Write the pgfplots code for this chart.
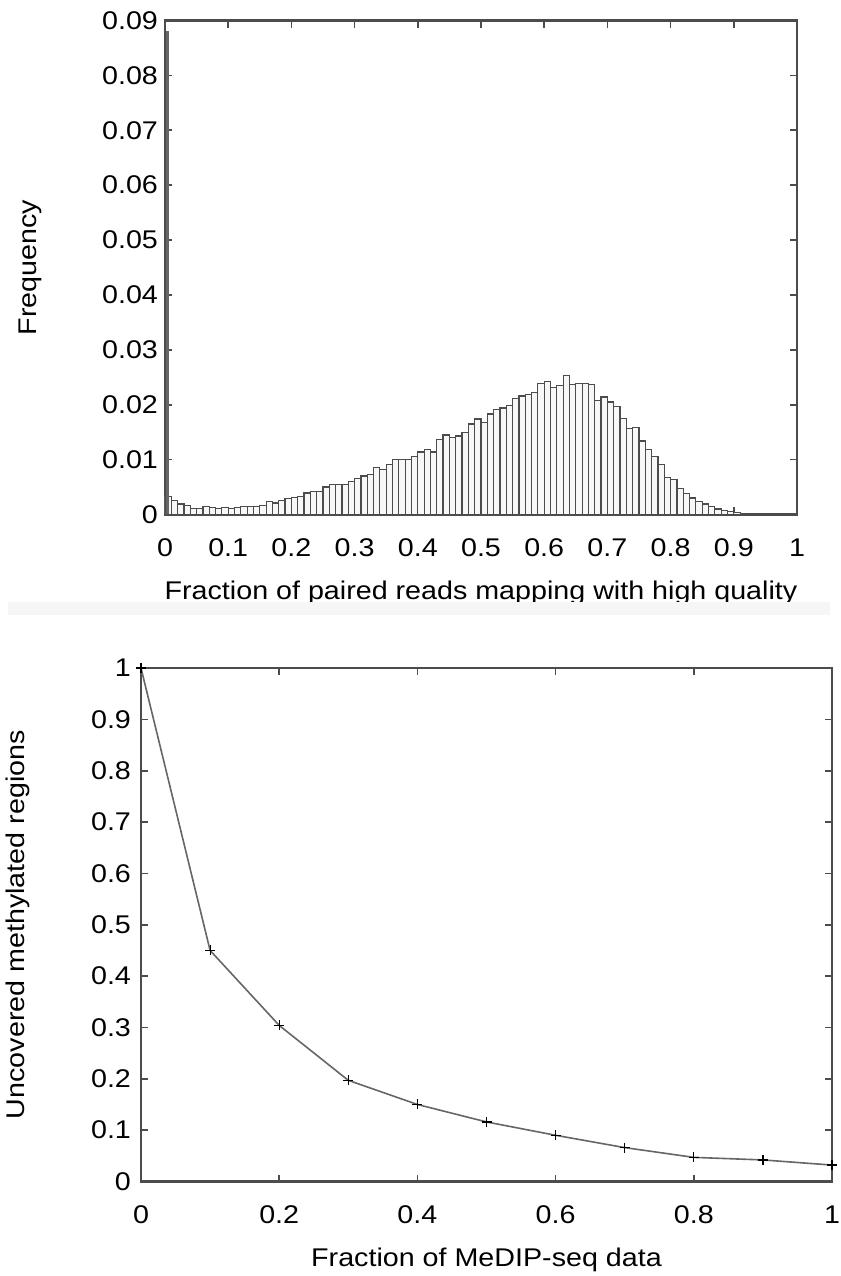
\documentclass[border=0pt]{standalone}
\usepackage{fontspec}
\setmainfont{Liberation Sans}[FakeStretch=1.12]
\usepackage{pgfplots}
\pgfplotsset{compat=1.18}

% histogram: bin left edge, frequency (bin width 0.01)
\pgfplotsset{
  gnu/.style={
    scale only axis,
    axis line style={black!70, line width=1.2pt},
    tick style={black!70, line width=0.8pt},
    major tick length=3.5pt,
    tick align=inside,
    xtick pos=both, ytick pos=both,
    scaled ticks=false,
    tick label style={font=\fontsize{12.8}{15}\selectfont},
    label style={font=\fontsize{12.8}{15}\selectfont},
    xticklabel style={anchor=base, yshift=-21pt},
    xlabel style={at={(rel axis cs:0.5,0)}, anchor=base, yshift=-42.5pt},
  },
}

\begin{document}
\begin{tikzpicture}
\path[use as bounding box] (0,0) rectangle (420.5pt,638pt);

\begin{axis}[gnu,
    at={(82.5pt,380.75pt)}, anchor=south west,
    width=316pt, height=247pt,
    xmin=0, xmax=1, ymin=0, ymax=0.09,
    xtick={0,0.1,0.2,0.3,0.4,0.5,0.6,0.7,0.8,0.9,1},
    xticklabels={0,0.1,0.2,0.3,0.4,0.5,0.6,0.7,0.8,0.9,1},
    ytick={0,0.01,0.02,0.03,0.04,0.05,0.06,0.07,0.08,0.09},
    yticklabels={0,0.01,0.02,0.03,0.04,0.05,0.06,0.07,0.08,0.09},
    xlabel={Fraction of paired reads mapping with high quality},
    ylabel={Frequency},
    ylabel style={at={(rel axis cs:0,0.5)}, anchor=center, yshift=67.5pt},
  ]
  \addplot[ybar interval, draw=black!70, fill=gray!6, line width=0.6pt] coordinates {
    (0.00,0.0033) (0.01,0.0025) (0.02,0.0019) (0.03,0.0016) (0.04,0.0011)
    (0.05,0.0011) (0.06,0.0015) (0.07,0.0013) (0.08,0.0011) (0.09,0.0013)
    (0.10,0.0011) (0.11,0.0013) (0.12,0.0015) (0.13,0.0015) (0.14,0.0015)
    (0.15,0.0016) (0.16,0.0024) (0.17,0.0021) (0.18,0.0025) (0.19,0.0029)
    (0.20,0.0031) (0.21,0.0033) (0.22,0.0039) (0.23,0.0042) (0.24,0.0042)
    (0.25,0.0050) (0.26,0.0055) (0.27,0.0055) (0.28,0.0055) (0.29,0.0060)
    (0.30,0.0065) (0.31,0.0070) (0.32,0.0073) (0.33,0.0085) (0.34,0.0082)
    (0.35,0.0091) (0.36,0.0100) (0.37,0.0100) (0.38,0.0100) (0.39,0.0105)
    (0.40,0.0114) (0.41,0.0119) (0.42,0.0114) (0.43,0.0136) (0.44,0.0145)
    (0.45,0.0140) (0.46,0.0143) (0.47,0.0150) (0.48,0.0165) (0.49,0.0174)
    (0.50,0.0168) (0.51,0.0183) (0.52,0.0191) (0.53,0.0194) (0.54,0.0199)
    (0.55,0.0212) (0.56,0.0216) (0.57,0.0218) (0.58,0.0222) (0.59,0.0238)
    (0.60,0.0242) (0.61,0.0231) (0.62,0.0235) (0.63,0.0253) (0.64,0.0237)
    (0.65,0.0238) (0.66,0.0238) (0.67,0.0237) (0.68,0.0208) (0.69,0.0214)
    (0.70,0.0205) (0.71,0.0197) (0.72,0.0175) (0.73,0.0156) (0.74,0.0159)
    (0.75,0.0134) (0.76,0.0119) (0.77,0.0106) (0.78,0.0091) (0.79,0.0067)
    (0.80,0.0064) (0.81,0.0048) (0.82,0.0038) (0.83,0.0030) (0.84,0.0024)
    (0.85,0.0019) (0.86,0.0014) (0.87,0.0010) (0.88,0.0007) (0.89,0.0005)
    (0.90,0.0003) (0.91,0.0002) (0.92,0.0001) (0.93,0.0001) (0.94,0.0001)
    (0.95,0.0001) (0.96,0.0001) (0.97,0.0001) (0.98,0.0001) (0.99,0.0000)
    (1.00,0.0000)
  };
  % spike of reads with fraction 0
  \addplot[black!60, line width=1.2pt] coordinates {(0.004,0) (0.004,0.088)};
\end{axis}

\fill[gray!7] (4pt,330.5pt) rectangle (415pt,337pt);

\begin{axis}[gnu,
    at={(70.5pt,47.25pt)}, anchor=south west,
    width=345.5pt, height=256.75pt,
    xmin=0, xmax=1, ymin=0, ymax=1,
    xtick={0,0.2,0.4,0.6,0.8,1},
    xticklabels={0,0.2,0.4,0.6,0.8,1},
    ytick={0,0.1,0.2,0.3,0.4,0.5,0.6,0.7,0.8,0.9,1},
    yticklabels={0,0.1,0.2,0.3,0.4,0.5,0.6,0.7,0.8,0.9,1},
    yticklabel style={xshift=-1.5pt},
    xlabel={Fraction of MeDIP-seq data},
    ylabel={Uncovered methylated regions},
    ylabel style={at={(rel axis cs:0,0.5)}, anchor=center, yshift=61.5pt},
  ]
  \addplot[black!60, line width=0.8pt, mark=+, mark size=2.5pt,
           mark options={black, line width=0.6pt}] coordinates {
    (0,1) (0.1,0.45) (0.2,0.304) (0.3,0.197) (0.4,0.150) (0.5,0.116)
    (0.6,0.090) (0.7,0.066) (0.8,0.047) (0.9,0.042) (1,0.032)
  };
\end{axis}
\end{tikzpicture}
\end{document}
